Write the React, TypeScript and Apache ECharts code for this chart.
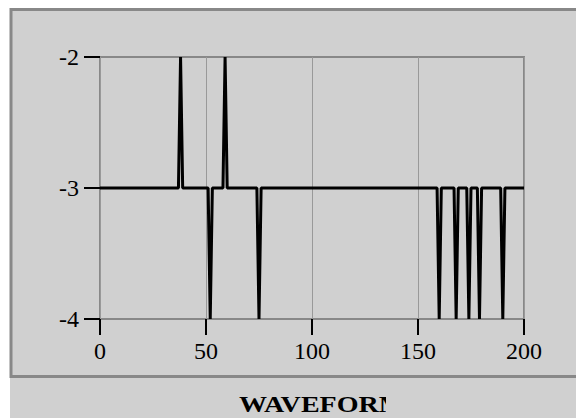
import React, { useEffect, useRef } from "react";
import * as echarts from "echarts";

// Waveform vertices (x sample index, level)
const xs = [0, 37, 38, 39, 51, 52, 53, 58, 59, 60, 74, 75, 76, 159, 160, 161, 167, 168, 169, 173, 174, 175, 178, 179, 180, 189, 190, 191, 200];
const ys = [-3, -3, -2, -3, -3, -4, -3, -3, -2, -3, -3, -4, -3, -3, -4, -3, -3, -4, -3, -3, -4, -3, -3, -4, -3, -3, -4, -3, -3];

const xTicks = [0, 50, 100, 150, 200];
const yTicks = [-4, -3, -2];
const title = "WAVEFORM";

export default function App() {
  const ref = useRef<HTMLDivElement>(null);
  useEffect(() => {
    document.body.style.margin = "0";
    const chart = echarts.init(ref.current!, null, { renderer: "svg" });
    const bg = "#d0d0d0";
    const serif = "'Liberation Serif', 'Times New Roman', serif";
    chart.setOption({
      animation: false,
      backgroundColor: bg,
      graphic: [
        { type: "rect", shape: { x: 0, y: 0, width: 10, height: 418 }, style: { fill: "#fff" }, z: 100 },
        { type: "rect", shape: { x: 0, y: 0, width: 576, height: 8 }, style: { fill: "#fff" }, z: 100 },
        { type: "rect", shape: { x: 11, y: 9.5, width: 620, height: 367 }, style: { fill: "none", stroke: "#888", lineWidth: 3 }, z: 100 },
        { type: "text", x: 239, y: 404, scaleX: 1.17, scaleY: 1, style: { text: title, font: `bold 24px ${serif}`, fill: "#000", textAlign: "left", textVerticalAlign: "middle" }, z: 100 },
        { type: "rect", shape: { x: 386, y: 384, width: 200, height: 34 }, style: { fill: bg }, z: 110 },
      ],
      grid: { left: 100, right: 52, top: 57, bottom: 99, show: true, borderColor: "#888", borderWidth: 2 },
      xAxis: {
        type: "value",
        min: xTicks[0],
        max: xTicks[xTicks.length - 1],
        interval: 50,
        axisLine: { show: false },
        axisTick: { show: true, length: 16, lineStyle: { color: "#000", width: 2 } },
        axisLabel: { color: "#000", fontFamily: serif, fontSize: 24, margin: 20 },
        splitLine: { show: true, lineStyle: { color: "#999", width: 1 } },
      },
      yAxis: {
        type: "value",
        min: yTicks[0],
        max: yTicks[yTicks.length - 1],
        interval: 1,
        axisLine: { show: false },
        axisTick: { show: true, length: 16, lineStyle: { color: "#000", width: 2 } },
        axisLabel: { color: "#000", fontFamily: serif, fontSize: 24, margin: 21 },
        splitLine: { show: false },
      },
      series: [
        {
          type: "line",
          data: xs.map((x, i) => [x, ys[i]]),
          symbol: "none",
          lineStyle: { color: "#000", width: 3 },
        },
      ],
    });
    return () => chart.dispose();
  }, []);
  return <div ref={ref} style={{ width: 576, height: 418 }} />;
}
